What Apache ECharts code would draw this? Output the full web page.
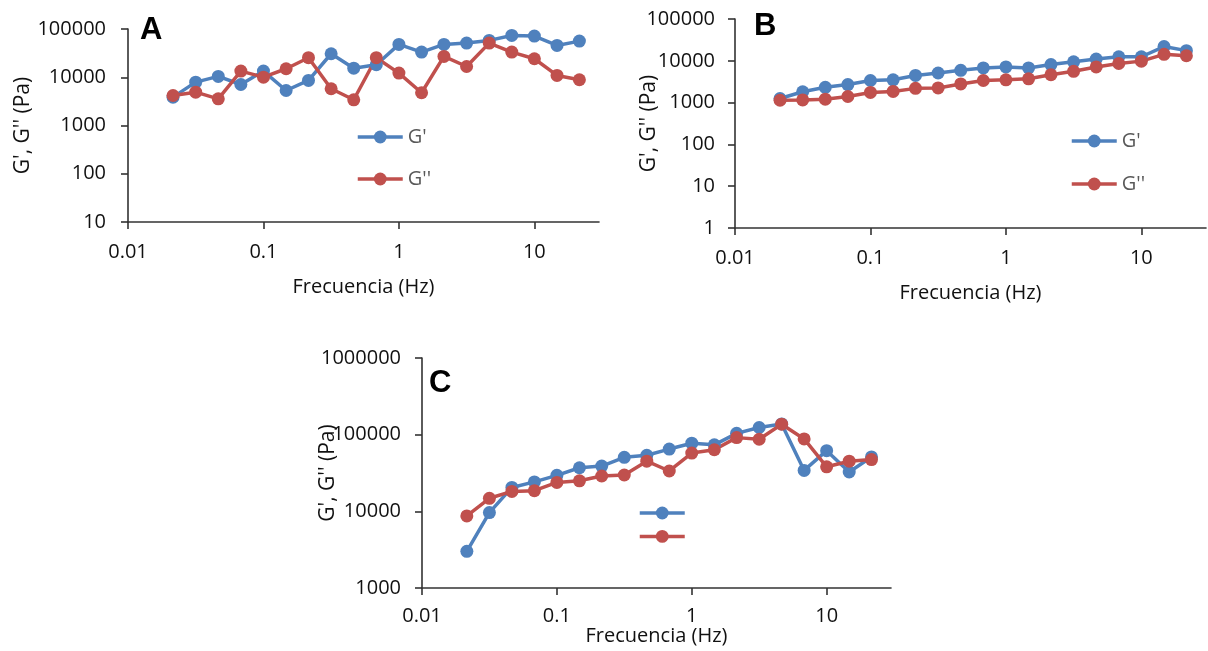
<!DOCTYPE html>
<html><head><meta charset="utf-8">
<script src="https://cdn.jsdelivr.net/npm/echarts@6/dist/echarts.min.js"></script>
<style>html,body{margin:0;padding:0;background:#fff}#c{width:1208px;height:651px}</style>
</head><body><div id="c"></div>
<script>
// Frequency (Hz), shared by the three panels
const freq = [0.0215, 0.0316, 0.0464, 0.0681, 0.1, 0.147, 0.215, 0.316, 0.464, 0.681, 1, 1.47, 2.15, 3.16, 4.64, 6.81, 10, 14.7, 21.5];

// Panel A
const aGp  = [3870, 7910, 10400, 7080, 13400, 5320, 8590, 30700, 15400, 18200, 47900, 33200, 47900, 51000, 58000, 73600, 71200, 45700, 56100];
const aGpp = [4190, 4910, 3570, 13400, 10050, 15000, 25400, 5770, 3410, 25400, 12200, 4770, 27000, 16700, 51000, 33200, 24200, 10900, 8870];

// Panel B
const bGp  = [1250, 1820, 2320, 2700, 3380, 3510, 4470, 5100, 5920, 6750, 7140, 6750, 8140, 9460, 11000, 12500, 12500, 21900, 17500];
const bGpp = [1140, 1160, 1210, 1400, 1750, 1850, 2190, 2240, 2800, 3380, 3510, 3710, 4640, 5600, 7140, 8610, 9820, 14300, 13200];

// Panel C
const cGp  = [3010, 9620, 20500, 24200, 29500, 37000, 38900, 50700, 53800, 64900, 77400, 73700, 104000, 124000, 138000, 34200, 61800, 32600, 51200];
const cGpp = [8710, 14800, 18200, 18600, 23800, 25000, 28900, 29800, 45100, 33600, 57600, 63600, 91500, 87100, 137000, 88000, 38100, 45100, 47300];

const xTicks = [0.01, 0.1, 1, 10];
const seriesNames = ["G'", "G''"];
const panelLetters = ['A', 'B', 'C'];
const xName = 'Frecuencia (Hz)';
const yName = "G', G'' (Pa)";

const BLUE = '#4F81BD', RED = '#C0504D';
const FONT = 'Open Sans';
const TXT = '#111';
const FS = 20;

function fmt(v) {
  const l = Math.log10(v);
  const e = Math.round(l);
  if (Math.abs(l - e) > 1e-6) return '';
  return e < 0 ? Math.pow(10, e).toFixed(-e) : String(Math.round(Math.pow(10, e)));
}

const axisLine = { show: true, lineStyle: { color: '#333', width: 1.6 } };

function mkX(gi, nameGap, labelMargin) {
  return {
    type: 'log', logBase: 10, gridIndex: gi, min: 0.01, max: 30,
    name: xName, nameLocation: 'middle', nameGap: nameGap, nameMoveOverlap: false,
    nameTextStyle: { fontFamily: FONT, fontSize: FS, color: TXT },
    axisLine: axisLine,
    axisTick: { show: true, length: 7, customValues: xTicks, lineStyle: { color: '#333', width: 1.6 } },
    axisLabel: { margin: labelMargin, customValues: xTicks, formatter: fmt, fontFamily: FONT, fontSize: FS, color: TXT },
    splitLine: { show: false }, minorTick: { show: false }
  };
}
function mkY(gi, min, max, nameGap, labelMargin) {
  return {
    type: 'log', logBase: 10, gridIndex: gi, min: min, max: max,
    name: yName, nameLocation: 'middle', nameGap: nameGap, nameMoveOverlap: false,
    nameTextStyle: { fontFamily: FONT, fontSize: 21, color: TXT },
    axisLine: axisLine,
    axisTick: { show: true, length: 7, lineStyle: { color: '#333', width: 1.6 } },
    axisLabel: { margin: labelMargin, formatter: fmt, fontFamily: FONT, fontSize: FS, color: TXT },
    splitLine: { show: false }
  };
}
function mkSeries(name, color, gi, vals) {
  return {
    type: 'line', name: name, xAxisIndex: gi, yAxisIndex: gi,
    data: freq.map((f, i) => [f, vals[i]]),
    symbol: 'circle', symbolSize: 13, showSymbol: true,
    lineStyle: { color: color, width: 3.5 },
    itemStyle: { color: color },
    emphasis: { disabled: true }
  };
}
function mkLegend(left, top, gap, withText) {
  return {
    orient: 'vertical', left: left, top: top, itemGap: gap,
    itemWidth: 45, itemHeight: 16, padding: 0,
    data: seriesNames,
    formatter: withText ? (n => n) : (() => ''),
    textStyle: { fontFamily: FONT, fontSize: FS, color: '#595959' },
    lineStyle: { width: 3.5 },
    selectedMode: false
  };
}
function mkTitle(i, left, top) {
  return { text: panelLetters[i], left: left, top: top, padding: 0,
    textStyle: { fontFamily: 'Liberation Sans', fontWeight: 'bold', fontSize: 31, color: '#000' } };
}

const chart = echarts.init(document.getElementById('c'), null, { renderer: 'canvas' });
chart.setOption({
  animation: false,
  backgroundColor: '#fff',
  title: [mkTitle(0, 140, 15), mkTitle(1, 754, 11), mkTitle(2, 429, 368)],
  grid: [
    { left: 128, top: 29, width: 471, height: 193 },
    { left: 735, top: 19, width: 471, height: 209 },
    { left: 422, top: 358, width: 469, height: 230 }
  ],
  xAxis: [mkX(0, 55, 20), mkX(1, 55, 20), mkX(2, 38, 18)],
  yAxis: [mkY(0, 10, 100000, 94, 22), mkY(1, 1, 100000, 75, 20), mkY(2, 1000, 1000000, 83, 21)],
  legend: [mkLegend(356, 127, 22, true), mkLegend(1070, 131, 23, true), mkLegend(638, 505, 9, false)],
  series: [
    mkSeries(seriesNames[0], BLUE, 0, aGp), mkSeries(seriesNames[1], RED, 0, aGpp),
    mkSeries(seriesNames[0], BLUE, 1, bGp), mkSeries(seriesNames[1], RED, 1, bGpp),
    mkSeries(seriesNames[0], BLUE, 2, cGp), mkSeries(seriesNames[1], RED, 2, cGpp)
  ]
});
</script>
</body></html>
